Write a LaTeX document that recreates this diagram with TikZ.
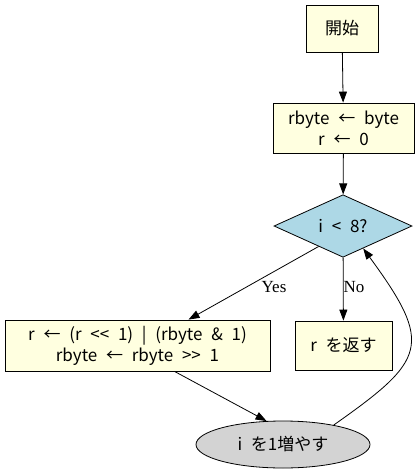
\documentclass[tikz,border=0pt]{standalone}
\usepackage{fontspec}
\setmainfont{Liberation Serif}
\newfontfamily\jp{Noto Sans CJK JP}[WordSpace=2.3]
\usetikzlibrary{arrows.meta,shapes.geometric,calc}
\definecolor{lyellow}{HTML}{FFFFE0}
\definecolor{lblue}{HTML}{ADD8E6}
\definecolor{lgray}{HTML}{D3D3D3}
\begin{document}
\begin{tikzpicture}[x=1pt,y=-1pt,
  every node/.style={inner sep=0pt, align=center},
  jptext/.style={font=\jp\fontsize{17}{21}\selectfont},
  procbox/.style={jptext, draw, line width=0.8pt, fill=lyellow, shape=rectangle},
  decbox/.style={jptext, draw, line width=0.8pt, fill=lblue, shape=diamond},
  ovalbox/.style={jptext, draw, line width=0.8pt, fill=lgray, shape=ellipse},
  arr/.style={draw, line width=0.8pt, -{Triangle[length=11pt,width=8pt]}},
  lbl/.style={font=\fontsize{17}{19}\selectfont}]
\useasboundingbox (0,0) rectangle (418,474);
\node[procbox, minimum width=72pt, minimum height=47pt] (start) at (342,28.5) {開始};
\node[procbox, minimum width=141pt, minimum height=50pt] (init) at (343.5,128) {rbyte ← byte\\r ← 0};
\node[decbox, minimum width=138pt, minimum height=49pt] (cond) at (343,226) {i < 8?};
\node[procbox, minimum width=265pt, minimum height=51pt] (body) at (137.5,345.5) {r ← (r <{}< 1) | (rbyte \& 1)\\rbyte ← rbyte >{}> 1};
\node[procbox, minimum width=97pt, minimum height=49pt] (ret) at (343.5,345.5) {r を返す};
\node[ovalbox, minimum width=174pt, minimum height=47pt] (inc) at (283,444.5) {i を1増やす};
\node[lbl] (yes) at (274,287) {Yes};
\node[lbl] (no) at (354,287) {No};
\draw[arr] (start) -- (init);
\draw[arr] (init) -- (cond);
\draw[arr] (cond.-140) -- ($(body.north)+(51,0)$);
\draw[arr] (cond) -- (ret);
\draw[arr] ($(body.south)+(37,0)$) -- (inc.125);
\draw[arr] (inc.21) .. controls (426,360) and (434,345) .. (cond.-48);
\end{tikzpicture}
\end{document}
